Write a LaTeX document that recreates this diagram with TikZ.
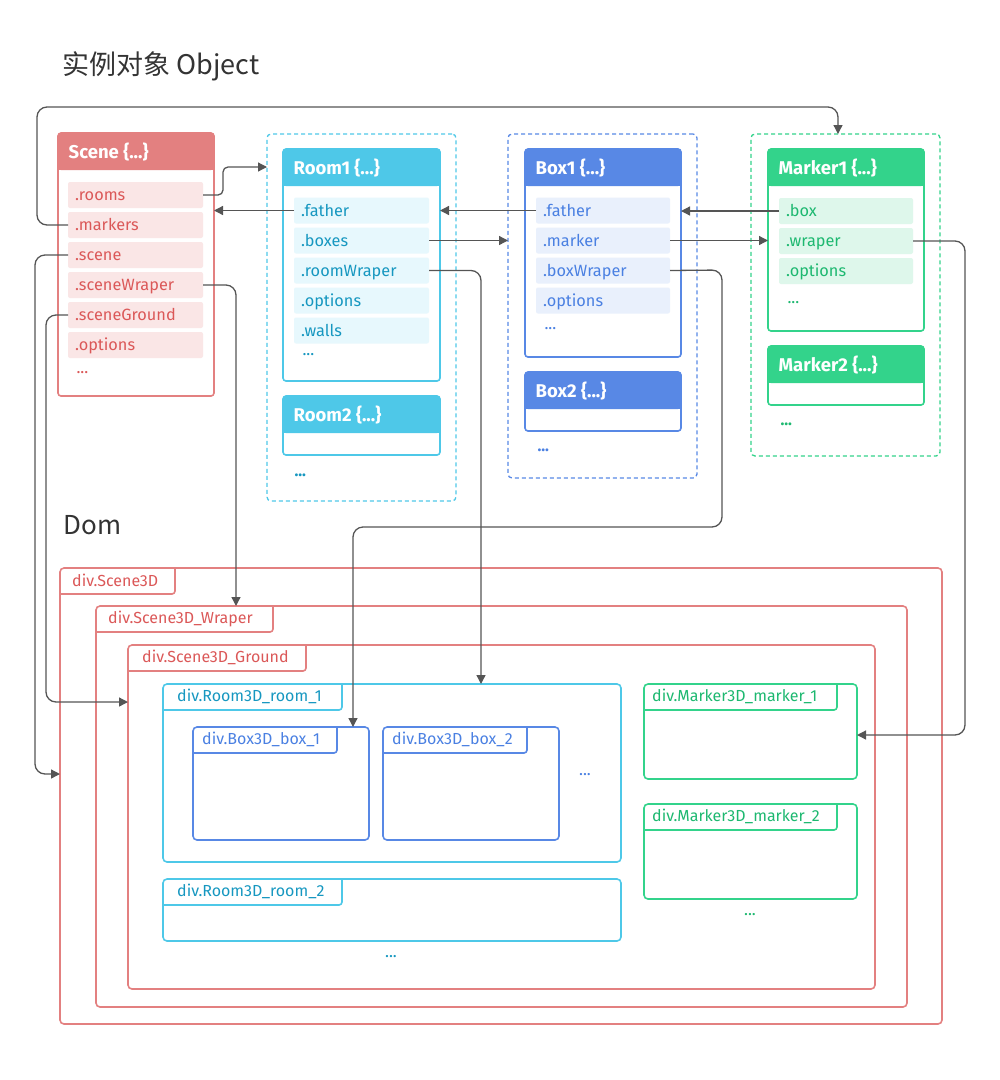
\documentclass[tikz,border=0pt]{standalone}
\usepackage{fontspec}
\setmainfont{Fira Sans}
\newfontfamily\cjk{Noto Sans CJK SC}
\usetikzlibrary{arrows.meta,positioning}
\definecolor{titlec}{HTML}{333333}
\definecolor{linec}{HTML}{555555}
\definecolor{scenec}{HTML}{E38080}
\definecolor{scenebg}{HTML}{FAE6E6}
\definecolor{scenetx}{HTML}{DB5858}
\definecolor{roomc}{HTML}{4EC8E8}
\definecolor{roombg}{HTML}{E7F8FD}
\definecolor{roomtx}{HTML}{1697C0}
\definecolor{boxc}{HTML}{5888E5}
\definecolor{boxbg}{HTML}{E9F0FC}
\definecolor{boxtx}{HTML}{4A80E2}
\definecolor{markc}{HTML}{33D38B}
\definecolor{markbg}{HTML}{DEF7EB}
\definecolor{marktx}{HTML}{1DB870}

\begin{document}
\begin{tikzpicture}[x=1pt, y=-1pt, font=\fontsize{16.3}{18}\selectfont]
\tikzstyle{grp}=[draw, dash pattern=on 4pt off 3pt, line width=1.3pt, rounded corners=4pt, anchor=north west, inner sep=0pt, outer sep=0pt]
\tikzstyle{card}=[draw, fill=white, line width=1.6pt, rounded corners=3pt, anchor=north west, inner sep=0pt, outer sep=0pt]
\tikzstyle{head}=[anchor=west, text=white, font=\fontsize{18.5}{20}\selectfont\bfseries, inner sep=0pt]
\tikzstyle{row}=[anchor=west, rounded corners=2pt, minimum height=26pt, text height=12.5pt, text depth=1.5pt, text width=121pt, inner xsep=7pt, inner ysep=0pt, outer sep=0pt, align=left]
\tikzstyle{dom}=[draw, line width=1.6pt, rounded corners=4pt, anchor=north west, inner sep=0pt, outer sep=0pt]
\tikzstyle{tabtxt}=[anchor=west, inner sep=0pt, font=\fontsize{16}{17}\selectfont]
\tikzstyle{conn}=[draw=linec, line width=1.3pt, rounded corners=10pt, -{Triangle[length=9pt, width=9pt]}]
\useasboundingbox (0,0) rectangle (1000,1080);

% titles
\node[anchor=west, text=titlec, font=\cjk\fontsize{27}{30}\selectfont] (title) at (59,66) {实例对象 Object};
\node[anchor=west, text=titlec, font=\cjk\fontsize{26}{30}\selectfont] (domtitle) at (60,525) {Dom};

% object groups
\node[grp, draw=roomc, minimum width=189pt, minimum height=367pt] (roomgrp) at (267,134) {};
\node[grp, draw=boxc, minimum width=189pt, minimum height=344pt] (boxgrp) at (508,134) {};
\node[grp, draw=markc, minimum width=189pt, minimum height=322pt] (markgrp) at (751,134) {};

% object cards
\node[card, draw=scenec, minimum width=156pt, minimum height=263pt] (scene) at (58,133) {};
\node[card, draw=roomc, minimum width=157pt, minimum height=232pt] (room1) at (283,149) {};
\node[card, draw=roomc, minimum width=157pt, minimum height=59pt] (room2) at (283,396) {};
\node[card, draw=boxc, minimum width=156pt, minimum height=208pt] (box1) at (525,149) {};
\node[card, draw=boxc, minimum width=156pt, minimum height=59pt] (box2) at (525,372) {};
\node[card, draw=markc, minimum width=156pt, minimum height=182pt] (mark1) at (768,149) {};
\node[card, draw=markc, minimum width=156pt, minimum height=59pt] (mark2) at (768,346) {};
\foreach \n/\c/\t in {scene/scenec/Scene,room1/roomc/Room1,room2/roomc/Room2,box1/boxc/Box1,box2/boxc/Box2,mark1/markc/Marker1,mark2/markc/Marker2}{
  \fill[\c, rounded corners=3pt] (\n.north west) rectangle ([yshift=-37pt]\n.north east);
  \fill[\c] ([yshift=-20pt]\n.north west) rectangle ([yshift=-37pt]\n.north east);
  \node[head] (\n-t) at ([xshift=10.5pt, yshift=-19.5pt]\n.north west) {\t\ \{...\}};
}

% fields
\foreach \t [count=\i] in {rooms,markers,scene,sceneWraper,sceneGround,options}
  \node[row, fill=scenebg, text=scenetx] (sc-\t) at (68,{195+30*(\i-1)}) {.\t};
\foreach \t [count=\i] in {father,boxes,roomWraper,options,walls}
  \node[row, fill=roombg, text=roomtx] (r1-\t) at (294,{210.5+30*(\i-1)}) {.\t};
\foreach \t [count=\i] in {father,marker,boxWraper,options}
  \node[row, fill=boxbg, text=boxtx, text width=120pt] (b1-\t) at (536,{210.5+30*(\i-1)}) {.\t};
\foreach \t [count=\i] in {box,wraper,options}
  \node[row, fill=markbg, text=marktx, text width=120pt] (m1-\t) at (779,{211+30*(\i-1)}) {.\t};
\node[anchor=west, text=scenetx] (sc-more) at (73,373) {...};
\node[anchor=west, text=roomtx] (r1-more) at (299,355) {...};
\node[anchor=west, text=boxtx] (b1-more) at (541,329) {...};
\node[anchor=west, text=marktx] (m1-more) at (784,303) {...};
\node[anchor=west, text=roomtx, font=\fontsize{16}{18}\selectfont\bfseries] (room-more) at (291,475) {...};
\node[anchor=west, text=boxtx, font=\fontsize{16}{18}\selectfont\bfseries] (box-more) at (534,450) {...};
\node[anchor=west, text=marktx, font=\fontsize{16}{18}\selectfont\bfseries] (mark-more) at (777,424) {...};

% dom boxes
\node[dom, draw=scenec, minimum width=882pt, minimum height=456pt] (d-scene) at (60,568) {};
\node[dom, draw=scenec, minimum width=811pt, minimum height=401pt] (d-wrap) at (96,606) {};
\node[dom, draw=scenec, minimum width=747pt, minimum height=344pt] (d-ground) at (128,645) {};
\node[dom, draw=roomc, minimum width=458pt, minimum height=178pt] (d-room1) at (163,684) {};
\node[dom, draw=boxc, minimum width=176pt, minimum height=113pt] (d-box1) at (193,727) {};
\node[dom, draw=boxc, minimum width=176pt, minimum height=113pt] (d-box2) at (383,727) {};
\node[dom, draw=roomc, minimum width=458pt, minimum height=62pt] (d-room2) at (163,879) {};
\node[dom, draw=markc, minimum width=213pt, minimum height=95pt] (d-mark1) at (644,684) {};
\node[dom, draw=markc, minimum width=213pt, minimum height=95pt] (d-mark2) at (644,804) {};
\foreach \n/\c/\x/\w/\o/\t in {d-scene/scenec/scenetx/115/12/div.Scene3D,
    d-wrap/scenec/scenetx/177/12/div.Scene3D\_Wraper,
    d-ground/scenec/scenetx/178/14/div.Scene3D\_Ground,
    d-room1/roomc/roomtx/179/14/div.Room3D\_room\_1,
    d-room2/roomc/roomtx/179/14/div.Room3D\_room\_2,
    d-box1/boxc/boxtx/144/9/div.Box3D\_box\_1,
    d-box2/boxc/boxtx/144/9/div.Box3D\_box\_2,
    d-mark1/markc/marktx/193/8/div.Marker3D\_marker\_1,
    d-mark2/markc/marktx/193/8/div.Marker3D\_marker\_2}{
  \draw[\c, line width=1.6pt, rounded corners=3pt] ([yshift=-26pt]\n.north west) -| ([xshift=\w pt]\n.north west);
  \node[tabtxt, text=\x] (\n-t) at ([xshift=\o pt, yshift=-12.5pt]\n.north west) {\t};
}
\node[text=boxtx] (d-box-more) at (585,775) {...};
\node[text=roomtx] (d-room-more) at (391,957) {...};
\node[text=marktx] (d-mark-more) at (750,915) {...};

% links between objects
\draw[conn, rounded corners=5pt] (sc-rooms.east) -- (223,195) -- (223,167) -- (roomgrp.west |- 0,167);
\draw[conn] (sc-markers.west) -- (37,225) -- (37,107) -- (838,107) -- (markgrp.north -| 838,0);
\foreach \a/\b in {r1-father/scene,b1-father/room1,m1-box/box1}
  \draw[conn] (\a.west) -- (\b.east |- \a.west);
\draw[conn] (r1-boxes.east) -- (boxgrp.west |- r1-boxes.east);
\draw[conn] (b1-marker.east) -- (mark1.west |- b1-marker.east);

% links to dom
\draw[conn] (r1-roomWraper.east) -| (d-room1.north -| 481,0);
\draw[conn] (b1-boxWraper.east) -- (722,270) -- (722,527) -- (353,527) -- (d-box1.north -| 353,0);
\draw[conn] (m1-wraper.east) -- (965,241) -- (965,735) -- (d-mark1.east |- 0,735);
\draw[conn] (sc-sceneWraper.east) -| (d-wrap.north -| 236,0);
\draw[conn] (sc-scene.west) -- (35,255) -- (35,774) -- (d-scene.west |- 0,774);
\draw[conn] (sc-sceneGround.west) -- (46,315) -- (46,702) -- (d-ground.west |- 0,702);
\end{tikzpicture}
\end{document}
